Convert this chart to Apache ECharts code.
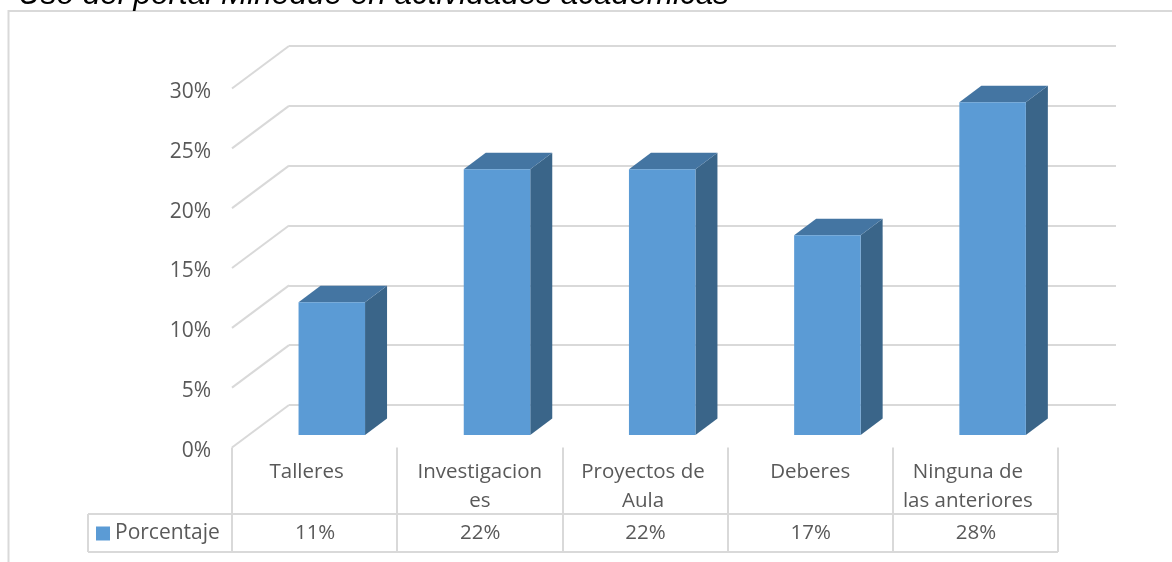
<!DOCTYPE html>
<html><head><meta charset="utf-8">
<style>html,body{margin:0;padding:0;background:#fff}#c{width:1172px;height:562px}</style>
<script src="https://cdn.jsdelivr.net/npm/echarts@6/dist/echarts.min.js"></script>
</head><body><div id="c"></div>
<script>
const categories = ['Talleres','Investigacion\nes','Proyectos de\nAula','Deberes','Ninguna de\nlas anteriores'];
const values = [11.1,22.2,22.2,16.7,27.8];
const valueLabels = ['11%','22%','22%','17%','28%'];
const yTicks = [0,5,10,15,20,25,30];
const seriesName = 'Porcentaje';
const titleText = 'Uso del portal Minedue en actividades académicas';

const FONT = '"Open Sans"', TXT = '#595959', LINE = '#d9d9d9', FS = 20.5, FS2 = 21;
const FRONT='#5b9bd5', SIDE='#3a6589', TOP='#4475a2';
const DX=57, DY=-42.5;
const BARW=66.5;
const TABLE_TOP=514, TABLE_BOTTOM=552, TABLE_LEFT=88, TABLE_RIGHT=1058;
const labelNudge = {0:16,2:4,4:15};

const chart = echarts.init(document.getElementById('c'),null,{renderer:'canvas'});
chart.setOption({
  animation:false,
  backgroundColor:'#fff',
  title:{text:titleText,left:13,top:-26,textStyle:{fontFamily:'"Liberation Sans"',fontStyle:'italic',fontWeight:'normal',fontSize:31.5,color:'#000'}},
  legend:{data:[{name:seriesName,icon:'rect'}],left:96,top:523,padding:0,itemWidth:14,itemHeight:14,itemGap:5,
    textStyle:{fontFamily:FONT,fontSize:FS2,color:TXT}},
  grid:[
    {left:232,right:114,top:88.5,bottom:114.5},
    {left:289,right:56,top:46,bottom:157}
  ],
  xAxis:[
    {type:'category',gridIndex:0,data:categories,boundaryGap:true,
     axisLine:{show:false},
     axisTick:{show:true,length:104.5,alignWithLabel:false,lineStyle:{color:LINE,width:2}},
     axisLabel:{margin:10,interval:0,verticalAlign:'top',
       formatter(v,i){
         const n=labelNudge[i]?'n'+i:'p';
         return v.split('\n').map(s=>'{'+n+'|'+s+'}').join('\n');
       },
       rich:{
         p:{fontFamily:FONT,fontSize:FS,color:TXT,lineHeight:29},
         n0:{fontFamily:FONT,fontSize:FS,color:TXT,lineHeight:29,padding:[0,16,0,0]},
         n2:{fontFamily:FONT,fontSize:FS,color:TXT,lineHeight:29,padding:[0,4,0,0]},
         n4:{fontFamily:FONT,fontSize:FS,color:TXT,lineHeight:29,padding:[0,15,0,0]}
       }},
     splitLine:{show:false}},
    {type:'category',gridIndex:1,data:categories,show:false}
  ],
  yAxis:[
    {type:'value',gridIndex:0,min:0,max:30,interval:5,
     axisLine:{show:false},axisTick:{show:false},splitLine:{show:false},
     axisLabel:{margin:21,formatter:v=>'{t|'+v+'%}',
       rich:{t:{fontFamily:FONT,fontSize:FS2,color:TXT,padding:[7,0,0,0]}}}},
    {type:'value',gridIndex:1,min:0,max:30,interval:5,
     axisLine:{show:false},axisTick:{show:false},axisLabel:{show:false},
     splitLine:{show:true,lineStyle:{color:LINE,width:2}}}
  ],
  graphic:[
    {type:'polyline',silent:true,shape:{points:[[8.5,562],[8.5,11],[1172,11]]},style:{stroke:LINE,lineWidth:2,fill:null}},
    {type:'line',silent:true,shape:{x1:TABLE_LEFT,y1:TABLE_TOP,x2:TABLE_RIGHT,y2:TABLE_TOP},style:{stroke:LINE,lineWidth:2}},
    {type:'line',silent:true,shape:{x1:TABLE_LEFT,y1:TABLE_BOTTOM,x2:TABLE_RIGHT,y2:TABLE_BOTTOM},style:{stroke:LINE,lineWidth:2}},
    {type:'line',silent:true,shape:{x1:TABLE_LEFT,y1:TABLE_TOP,x2:TABLE_LEFT,y2:TABLE_BOTTOM},style:{stroke:LINE,lineWidth:2}}
  ],
  series:[
    {
      type:'custom',name:'walls',xAxisIndex:0,yAxisIndex:0,silent:true,clip:false,z:1,
      data:yTicks.map(v=>[0,v]),
      renderItem(p,api){
        const s=api.coord([0,api.value(1)]);
        const x=p.coordSys.x;
        return {type:'line',shape:{x1:x,y1:s[1],x2:x+DX,y2:s[1]+DY},style:{stroke:LINE,lineWidth:2}};
      }
    },
    {type:'line',name:'back',xAxisIndex:1,yAxisIndex:1,data:[],silent:true},
    {
      type:'custom',name:seriesName,xAxisIndex:0,yAxisIndex:0,clip:false,z:3,
      itemStyle:{color:FRONT},
      data:values.map((v,i)=>[i,v]),
      encode:{x:0,y:1},
      renderItem(p,api){
        const c=api.coord([api.value(0),api.value(1)]);
        const b=api.coord([api.value(0),0]);
        const ox=17.2, oy=-12.5, dx=22, dy=-16.5;
        const x0=c[0]-BARW/2+ox, x1=x0+BARW, yt=c[1]+oy, yb=b[1]+oy;
        return {type:'group',children:[
          {type:'polygon',shape:{points:[[x1,yt],[x1+dx,yt+dy],[x1+dx,yb+dy],[x1,yb]]},style:{fill:SIDE}},
          {type:'polygon',shape:{points:[[x0,yt],[x0+dx,yt+dy],[x1+dx,yt+dy],[x1,yt]]},style:{fill:TOP}},
          {type:'rect',shape:{x:x0,y:yt,width:BARW,height:yb-yt},style:{fill:FRONT}}
        ]};
      }
    },
    {
      type:'custom',name:'table',xAxisIndex:0,yAxisIndex:0,silent:true,clip:false,z:4,
      data:valueLabels.map((t,i)=>[i,0]),
      renderItem(p,api){
        const i=api.value(0);
        const c=api.coord([i,0]);
        return {type:'text',style:{x:c[0]+0.5,y:(TABLE_TOP+TABLE_BOTTOM)/2+0.5,text:valueLabels[i],align:'center',verticalAlign:'middle',
          fontFamily:FONT,fontSize:FS,fill:TXT}};
      }
    }
  ]
});
</script></body></html>
